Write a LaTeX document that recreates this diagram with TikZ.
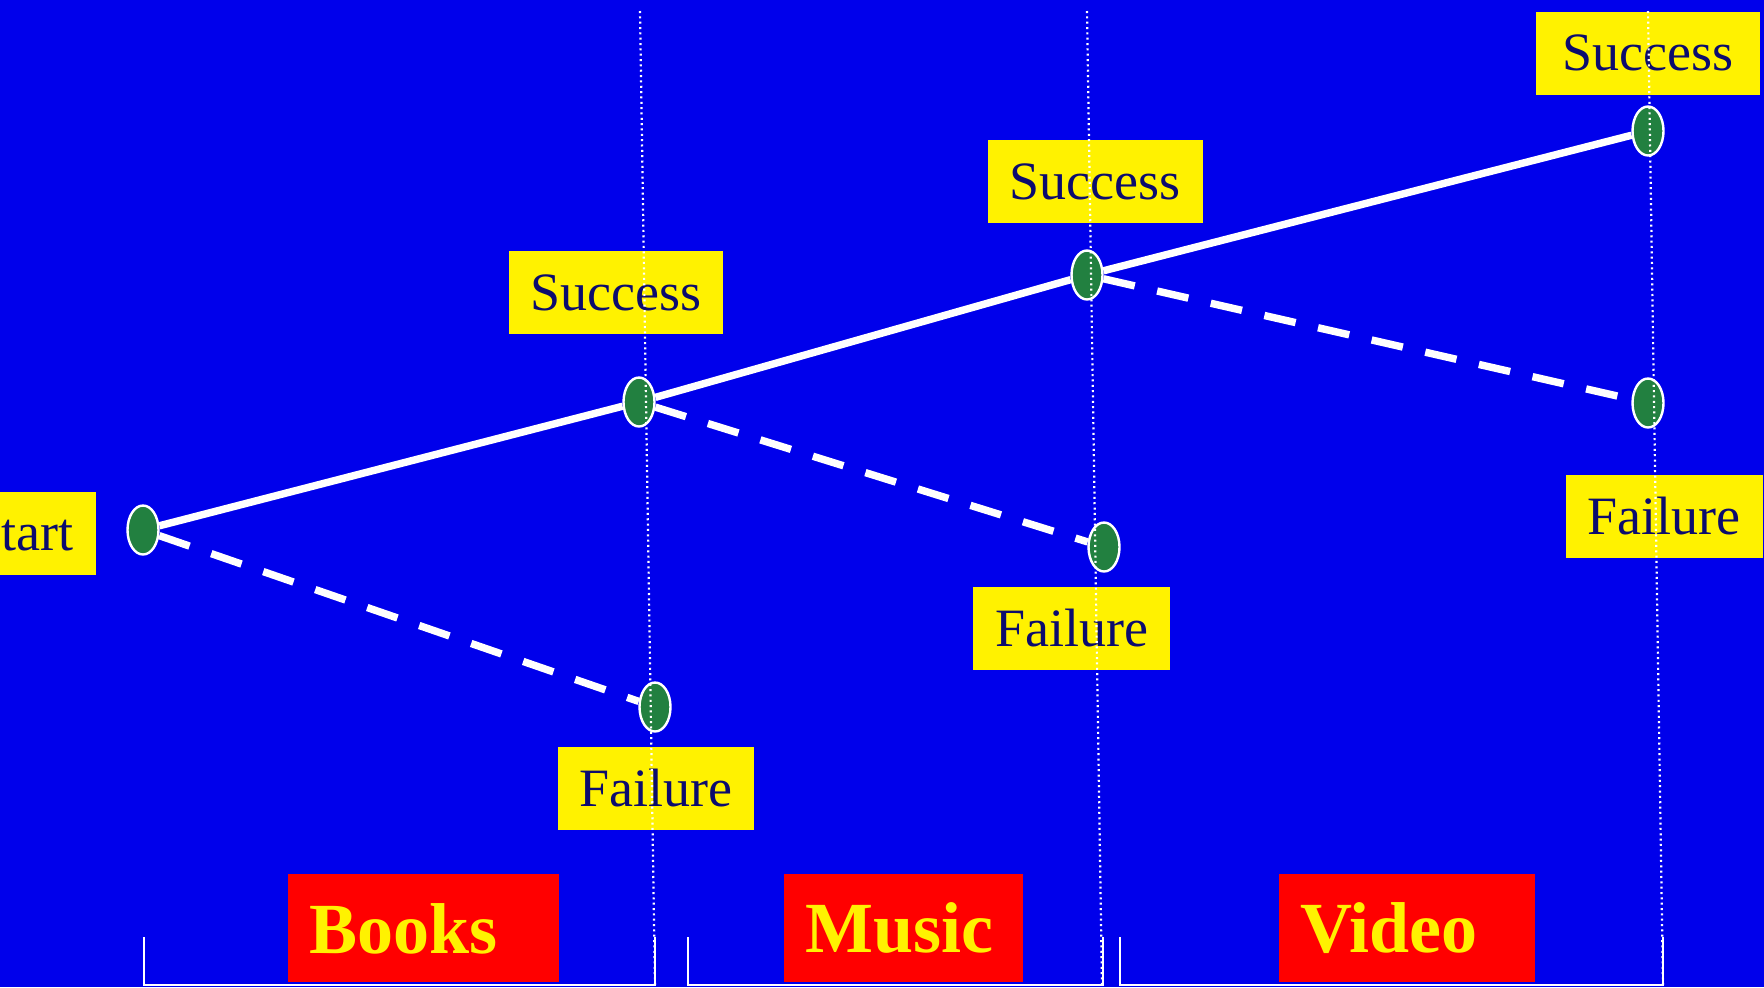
\documentclass[tikz,border=0pt]{standalone}
\usepackage{fontspec}
\setmainfont{Liberation Serif}
\usetikzlibrary{shapes.geometric}
\definecolor{bgblue}{RGB}{0,0,235}
\definecolor{navy}{RGB}{12,12,110}
\definecolor{nodegreen}{RGB}{34,128,64}
\begin{document}
\begin{tikzpicture}[x=0.5pt, y=-0.5pt,
    state/.style={ellipse, minimum width=15.5pt, minimum height=24.5pt, inner sep=0pt, draw=white, line width=1.2pt, fill=nodegreen},
    outcome/.style={fill=yellow, text=navy, minimum height=41.5pt, inner xsep=11pt, font=\fontsize{27}{32}\selectfont},
    category/.style={fill=red, text=yellow, anchor=north west, minimum height=54pt, inner xsep=10.5pt, align=left, font=\fontsize{36}{40}\selectfont\bfseries},
    win/.style={white, line width=3.7pt},
    lose/.style={white, line width=3.7pt, dash pattern=on 16pt off 11.5pt},
    guide/.style={white, line width=1.1pt, dash pattern=on 1pt off 1.67pt},
    bracket/.style={white, line width=1pt}]
    \useasboundingbox (0,0) rectangle (1764,987);
    \fill[bgblue] (0,0) rectangle (1764,987);
    \node[state] (st) at (143,530) {};
    \node[state] (s1) at (639,402) {};
    \node[state] (f1) at (655,707) {};
    \node[state] (s2) at (1087,275) {};
    \node[state] (f2) at (1104,547) {};
    \node[state] (s3) at (1648,131) {};
    \node[state] (f3) at (1648,403) {};
    \draw[win] (st) -- (s1);
    \draw[win] (s1) -- (s2);
    \draw[win] (s2) -- (s3);
    \draw[lose] (st) -- (f1);
    \draw[lose] (s1) -- (f2);
    \draw[lose] (s2) -- (f3);
    \node[outcome, anchor=east] (startlbl) at (96,533) {Start};
    \node[outcome] (s1lbl) at (616,292.5) {Success};
    \node[outcome] (f1lbl) at (656,788.5) {Failure};
    \node[outcome] (s2lbl) at (1095,181.5) {Success};
    \node[outcome] (f2lbl) at (1071.5,628) {Failure};
    \node[outcome, minimum width=112pt] (s3lbl) at (1648,53) {Success};
    \node[outcome] (f3lbl) at (1664,516.5) {Failure};
    \node[category, text width=114.5pt] (books) at (288,874) {Books};
    \node[category, text width=98.5pt] (music) at (784,874) {Music};
    \node[category, text width=107pt] (video) at (1279,874) {Video};
    % brackets under the categories
    \draw[bracket] (144,937) -- (144,985) -- (655,985) -- (655,937);
    \draw[bracket] (688,937) -- (688,985) -- (1103,985) -- (1103,937);
    \draw[bracket] (1120,937) -- (1120,985) -- (1663,985) -- (1663,937);
    % dotted guides
    \draw[guide] (640,11) -- (655,987);
    \draw[guide] (1087,11) -- (1102,987);
    \draw[guide] (1648,11) -- (1663,987);
\end{tikzpicture}
\end{document}
